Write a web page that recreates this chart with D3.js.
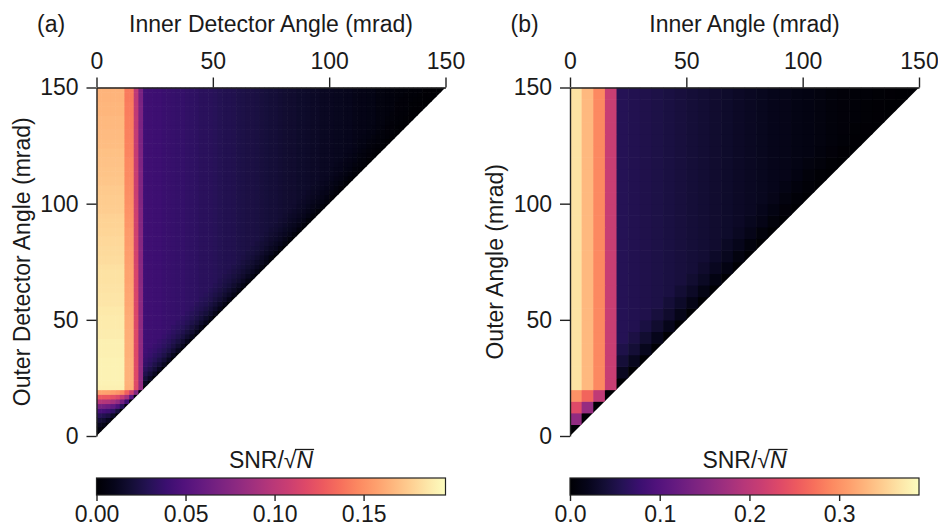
<!DOCTYPE html>
<html>
<head>
<meta charset="utf-8">
<script src="https://cdn.jsdelivr.net/npm/d3@7"></script>
<style>
  body { margin: 0; background: #fff; }
  svg text { font-family: "Liberation Sans", Arial, sans-serif; fill: #1a1a1a; }
</style>
</head>
<body>
<svg id="chart" width="938" height="528"></svg>
<script>
// ---- data ----
const angleTicks = [0, 50, 100, 150];
const angleMax = 150;

// (a) 2 mrad grid
const stepA = 2;
// brightest column (inner 0-2 mrad) for outer rows 20..148 mrad
const brightRowA = [
  .190, .191, .191, .191, .191, .191, .191, .190, .190, .190, .190, .189, .189,
  .188, .188, .188, .187, .187, .186, .186, .186, .185, .185, .184, .184, .184,
  .183, .182, .182, .181, .181, .180, .180, .179, .179, .178, .178, .177, .176,
  .176, .175, .175, .174, .174, .173, .173, .172, .172, .171, .171, .170, .170,
  .169, .169, .168, .168, .167, .167, .167, .166, .166, .166, .165, .165, .165
];
// relative level of the inner columns 0..20 mrad
const brightColA = [1, 1, 1, 1, 1, 1, 0.86, 0.86, 0.62, 0.42];
// dark-field columns, inner 20..148 mrad
const darkColA = [
  .042, .041, .040, .040, .039, .038, .037, .036, .036, .035, .034, .033, .032,
  .032, .031, .030, .029, .028, .028, .027, .026, .025, .024, .024, .023, .022,
  .021, .020, .020, .019, .018, .017, .017, .016, .016, .015, .014, .014, .013,
  .013, .012, .011, .011, .010, .010, .009, .008, .008, .007, .007, .006, .006,
  .005, .005, .004, .004, .004, .003, .003, .003, .002, .002, .002, .001, .001
];
// darkening close to the diagonal (cells away from it)
const diagFadeA = [0, 0.3, 0.5, 0.65, 0.76, 0.84, 0.9, 0.95, 1];
// outer rows 0..20 mrad, columns 0..row
const cornerA = [
  [0],
  [0.006, 0],
  [0.012, 0.009, 0],
  [0.020, 0.018, 0.012, 0],
  [0.030, 0.028, 0.024, 0.015, 0],
  [0.045, 0.043, 0.040, 0.034, 0.022, 0],
  [0.068, 0.066, 0.063, 0.058, 0.048, 0.030, 0],
  [0.098, 0.097, 0.095, 0.090, 0.082, 0.066, 0.040, 0],
  [0.127, 0.126, 0.125, 0.122, 0.117, 0.105, 0.090, 0.055, 0],
  [0.158, 0.158, 0.157, 0.156, 0.153, 0.148, 0.130, 0.110, 0.075, 0]
];
const barMaxA = 0.196;
const barTicksA = [0, 0.05, 0.10, 0.15];

// (b) 5 mrad grid
const stepB = 5;
const brightColB = [0.366, 0.332, 0.292, 0.212];
const darkColB = [
  .058, .055, .052, .049, .046, .043, .040, .037, .034, .031, .028, .025, .022,
  .019, .017, .015, .013, .011, .009, .007, .006, .005, .004, .003, .002, .001
];
const diagFadeB = [0, 0.4, 0.7, 0.88, 1];
const cornerB = [
  [0],
  [0.160, 0],
  [0.235, 0.165, 0],
  [0.300, 0.262, 0.205, 0]
];
const barMaxB = 0.389;
const barTicksB = [0, 0.1, 0.2, 0.3];

// ---- drawing ----
const svg = d3.select("#chart");
const defs = svg.append("defs");

const grad = defs.append("linearGradient").attr("id", "magmaGrad")
  .attr("x1", "0%").attr("x2", "100%").attr("y1", "0%").attr("y2", "0%");
d3.range(0, 1.0001, 0.05).forEach(t => {
  grad.append("stop").attr("offset", (t * 100) + "%").attr("stop-color", d3.interpolateMagma(t));
});

const panels = [
  { key: "a", tag: "(a)", xTitle: "Inner Detector Angle (mrad)", yTitle: "Outer Detector Angle (mrad)",
    left: 96.5, step: stepA, brightRow: brightRowA, brightCol: brightColA, darkCol: darkColA,
    diagFade: diagFadeA, corner: cornerA, barMax: barMaxA, barTicks: barTicksA, fmt: ".2f" },
  { key: "b", tag: "(b)", xTitle: "Inner Angle (mrad)", yTitle: "Outer Angle (mrad)",
    left: 570, step: stepB, brightRow: null, brightCol: brightColB, darkCol: darkColB,
    diagFade: diagFadeB, corner: cornerB, barMax: barMaxB, barTicks: barTicksB, fmt: ".1f" }
];

const plotW = 349, plotTop = 87.5, plotBottom = 436;
const fontSize = "23px";

function cellValue(p, i, j) {
  const nc = p.corner.length, nb = p.brightCol.length;
  if (j < nc) return p.corner[j][i];
  if (i < nb) return p.brightCol[i] * (p.brightRow ? p.brightRow[j - nc] : 1);
  const d = j - i;
  return p.darkCol[i - nb] * (d < p.diagFade.length ? p.diagFade[d] : 1);
}

panels.forEach(p => {
  const x = d3.scaleLinear().domain([0, angleMax]).range([p.left, p.left + plotW]);
  const y = d3.scaleLinear().domain([0, angleMax]).range([plotBottom, plotTop]);
  const color = d3.scaleSequential(d3.interpolateMagma).domain([0, p.barMax]);

  const n = Math.round(angleMax / p.step);
  const cells = [];
  for (let j = 0; j < n; j++) {
    for (let i = 0; i <= j; i++) {
      cells.push({ i, j, v: cellValue(p, i, j) });
    }
  }

  defs.append("clipPath").attr("id", "tri-" + p.key)
    .append("polygon")
    .attr("points", [[x(0), y(0)], [x(0), y(angleMax)], [x(angleMax), y(angleMax)]].map(d => d.join(",")).join(" "));

  const cw = x(p.step) - x(0);
  svg.append("g").attr("clip-path", `url(#tri-${p.key})`)
    .selectAll("rect")
    .data(cells)
    .join("rect")
    .attr("x", d => x(d.i * p.step))
    .attr("y", d => y((d.j + 1) * p.step))
    .attr("width", cw + 0.6)
    .attr("height", cw + 0.6)
    .attr("fill", d => color(d.v));

  // axes
  const xAxis = svg.append("g")
    .attr("transform", `translate(0,${y(angleMax)})`)
    .call(d3.axisTop(x).tickValues(angleTicks).tickSize(10).tickSizeOuter(0).tickPadding(9));
  const yAxis = svg.append("g")
    .attr("transform", `translate(${x(0)},0)`)
    .call(d3.axisLeft(y).tickValues(angleTicks).tickSize(10).tickSizeOuter(0).tickPadding(8));
  [xAxis, yAxis].forEach(a => {
    a.attr("font-family", null).attr("font-size", null);
    a.selectAll("text").style("font-size", fontSize).attr("fill", "#1a1a1a");
    a.selectAll("line, path").attr("stroke", "#222").attr("stroke-width", 1.4);
  });

  // titles
  svg.append("text").attr("x", p.left - 59.5).attr("y", 31.5)
    .style("font-size", fontSize).text(p.tag);
  svg.append("text").attr("x", p.left + plotW / 2).attr("y", 31.5)
    .attr("text-anchor", "middle").style("font-size", fontSize).text(p.xTitle);
  svg.append("text")
    .attr("transform", `translate(${p.left - 67},${(plotTop + plotBottom) / 2}) rotate(-90)`)
    .attr("text-anchor", "middle").style("font-size", fontSize).text(p.yTitle);

  // colour bar
  const barTop = 478, barH = 17;
  const bx = d3.scaleLinear().domain([0, p.barMax]).range([p.left, p.left + plotW]);
  svg.append("rect")
    .attr("x", bx(0)).attr("y", barTop)
    .attr("width", bx(p.barMax) - bx(0)).attr("height", barH)
    .attr("fill", "url(#magmaGrad)")
    .attr("stroke", "#222").attr("stroke-width", 1.2);
  const barAxis = svg.append("g")
    .attr("transform", `translate(0,${barTop + barH})`)
    .call(d3.axisBottom(bx).tickValues(p.barTicks).tickFormat(d3.format(p.fmt)).tickSize(6).tickSizeOuter(0).tickPadding(5));
  barAxis.attr("font-family", null).attr("font-size", null);
  barAxis.select(".domain").remove();
  barAxis.selectAll("text").style("font-size", fontSize).attr("fill", "#1a1a1a");
  barAxis.selectAll("line").attr("stroke", "#222").attr("stroke-width", 1.4);

  // SNR/sqrt(N) label
  const cx = p.left + plotW / 2;
  const lab = svg.append("text").attr("x", cx).attr("y", 468)
    .attr("text-anchor", "middle").style("font-size", fontSize);
  lab.append("tspan").text("SNR/\u221A");
  lab.append("tspan").style("font-style", "italic").text("N");
  const node = lab.node();
  const total = node.getComputedTextLength();
  const start = cx - total / 2;
  const rootEnd = start + node.getSubStringLength(0, 5);
  const bb = node.getBBox();
  svg.append("line")
    .attr("x1", rootEnd - 1.5).attr("x2", start + total + 1)
    .attr("y1", bb.y + 2.5).attr("y2", bb.y + 2.5)
    .attr("stroke", "#1a1a1a").attr("stroke-width", 1.3);
});
</script>
</body>
</html>
